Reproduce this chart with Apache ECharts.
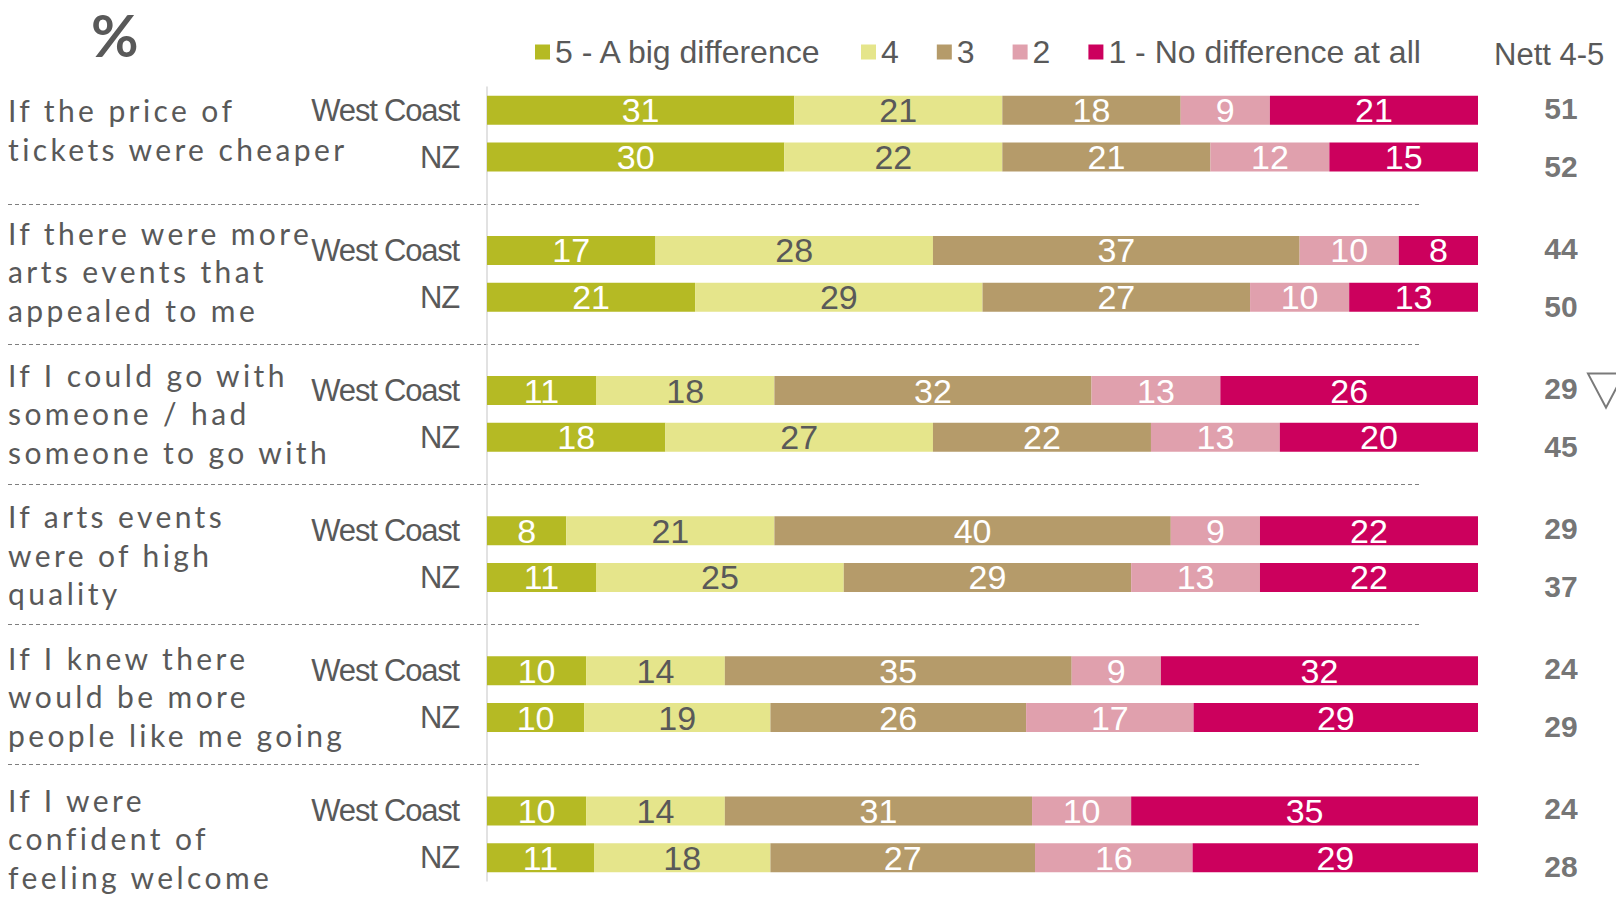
<!DOCTYPE html>
<html>
<head>
<meta charset="utf-8">
<script src="https://cdn.jsdelivr.net/npm/echarts@6.0.0/dist/echarts.min.js"></script>
<style>
html, body { margin: 0; padding: 0; background: #fff; }
#chart { width: 1616px; height: 909px; }
/* question texts are letter-spaced, region labels are condensed in the original */
#chart svg text[style*="Lato"] { letter-spacing: 3.4px; }
#chart svg text[style*="Arimo"] { letter-spacing: -1.2px; }
</style>
</head>
<body>
<div id="chart"></div>
<script>
var questions = [
    'If the price of\ntickets were cheaper',
    'If there were more\narts events that\nappealed to me',
    'If I could go with\nsomeone / had\nsomeone to go with',
    'If arts events\nwere of high\nquality',
    'If I knew there\nwould be more\npeople like me going',
    'If I were\nconfident of\nfeeling welcome'
];
var regions = ['West Coast', 'NZ'];
var levels = ['5 - A big difference', '4', '3', '2', '1 - No difference at all'];

// rows: West Coast, NZ for each question
var level5 = [31, 30, 17, 21, 11, 18, 8, 11, 10, 9.8, 10, 10.8];
var level4 = [21, 22, 28, 29, 18, 27, 21, 25, 14, 18.8, 14, 17.8];
var level3 = [18, 21, 37, 27, 32, 22, 40, 29, 35, 25.8, 31, 26.7];
var level2 = [9, 12, 10, 10, 13, 13, 9, 13, 9, 16.9, 10, 15.9];
var level1 = [21, 15, 8, 13, 26, 20, 22, 22, 32, 28.7, 35, 28.8];
var nett = [51, 52, 44, 50, 29, 45, 29, 37, 24, 29, 24, 28];
var sigLower = [0, 0, 0, 0, 1, 0, 0, 0, 0, 0, 0, 0];

var colors = ['#b5ba24', '#e5e58b', '#b59b6a', '#e0a0ad', '#cc005d'];
var labelColors = ['#fff', '#595959', '#fff', '#fff', '#fff'];
var grey = '#595959';
var sans = "'Liberation Sans', Arial, sans-serif";
var condensed = "'Liberation Sans', Arimo, sans-serif";

// 17 slots: West Coast, NZ, gap ... (no gap after the last question)
var slots = [];
questions.forEach(function (q, g) {
    slots.push(regions[0], regions[1]);
    if (g < questions.length - 1) slots.push('');
});
function slotOf(row) { return Math.floor(row / 2) * 3 + row % 2; }
function toSlots(values) {
    var out = slots.map(function () { return null; });
    values.forEach(function (v, r) { out[slotOf(r)] = v; });
    return out;
}

var top0 = 87, h0 = 794, slotH = h0 / slots.length;

var levelValues = [level5, level4, level3, level2, level1];
var barSeries = levels.map(function (name, i) {
    return {
        name: name,
        type: 'bar',
        stack: 'total',
        barWidth: 29,
        itemStyle: { color: colors[i] },
        label: {
            show: true,
            position: 'inside',
            color: labelColors[i],
            fontSize: 34,
            fontFamily: sans,
            formatter: function (p) { return Math.round(p.value); }
        },
        data: toSlots(levelValues[i])
    };
});

var nettData = nett.map(function (v, r) {
    return { value: [0.5, slotOf(r), v], label: { offset: [0, r % 2 ? 9 : -2] } };
});
var sigData = [];
sigLower.forEach(function (s, r) { if (s) sigData.push([0.5, slotOf(r)]); });

var chart = echarts.init(document.getElementById('chart'), null, { renderer: 'svg' });
var option = {
    animation: false,
    title: [
        { text: '%', left: 86, top: 0, textStyle: { fontSize: 58, fontWeight: 'bold', color: grey, fontFamily: 'Lato' } },
        { text: 'Nett 4-5', left: 1489, top: 34, textStyle: { fontSize: 31, fontWeight: 'normal', color: grey, fontFamily: sans } }
    ],
    legend: {
        data: levels,
        left: 530,
        top: 31,
        icon: 'rect',
        itemWidth: 15,
        itemHeight: 15,
        itemGap: 38,
        textStyle: { fontSize: 32, color: grey, fontFamily: sans }
    },
    grid: [
        { left: 487, right: 138, top: top0, height: h0 },
        { left: 8, right: 196, top: top0 + slotH / 2, height: h0 - slotH },
        { left: 8, width: 300, top: 58.75, height: 144 * questions.length },
        { left: 1506, width: 110, top: top0, height: h0 }
    ],
    xAxis: [
        { gridIndex: 0, type: 'value', min: 0, max: 100, show: false },
        { gridIndex: 1, type: 'value', min: 0, max: 1, show: false },
        { gridIndex: 2, type: 'value', min: 0, max: 1, show: false },
        { gridIndex: 3, type: 'value', min: 0, max: 1, show: false }
    ],
    yAxis: [
        {
            gridIndex: 0, type: 'category', data: slots, inverse: true,
            axisLine: { lineStyle: { color: '#d9d9d9', width: 1.5 } },
            axisTick: { length: 10, interval: 0, lineStyle: { color: '#d9d9d9', width: 1.5 } },
            axisLabel: { interval: 0, margin: 28, color: grey, fontSize: 31, fontFamily: condensed }
        },
        {
            gridIndex: 1, type: 'category', data: slots, inverse: true, boundaryGap: false,
            axisLine: { show: false }, axisTick: { show: false }, axisLabel: { show: false },
            splitLine: {
                show: true,
                interval: function (i) { return i % 3 === 2; },
                lineStyle: { color: '#7f7f7f', type: [4, 3], width: 1 }
            }
        },
        {
            gridIndex: 2, type: 'category', data: questions, inverse: true,
            axisLine: { show: false }, axisTick: { show: false },
            axisLabel: {
                interval: 0, inside: true, align: 'left', margin: 0,
                color: grey, fontSize: 30, lineHeight: 38.5, fontFamily: 'Lato'
            }
        },
        { gridIndex: 3, type: 'category', data: slots, inverse: true, show: false }
    ],
    series: barSeries.concat([
        {
            name: 'Nett 4-5',
            type: 'scatter',
            xAxisIndex: 3, yAxisIndex: 3,
            symbolSize: 1,
            itemStyle: { color: 'transparent' },
            label: {
                show: true, position: 'inside', color: '#505050',
                fontSize: 30, fontWeight: 'bold', fontFamily: sans,
                formatter: function (p) { return p.value[2]; }
            },
            data: nettData
        },
        {
            name: 'sig',
            type: 'scatter',
            xAxisIndex: 3, yAxisIndex: 3,
            symbol: 'triangle',
            symbolRotate: 180,
            symbolSize: [36, 34],
            symbolOffset: [45, 0],
            itemStyle: { color: 'transparent', borderColor: grey, borderWidth: 2 },
            data: sigData
        }
    ])
};
chart.setOption(option);
</script>
</body>
</html>
